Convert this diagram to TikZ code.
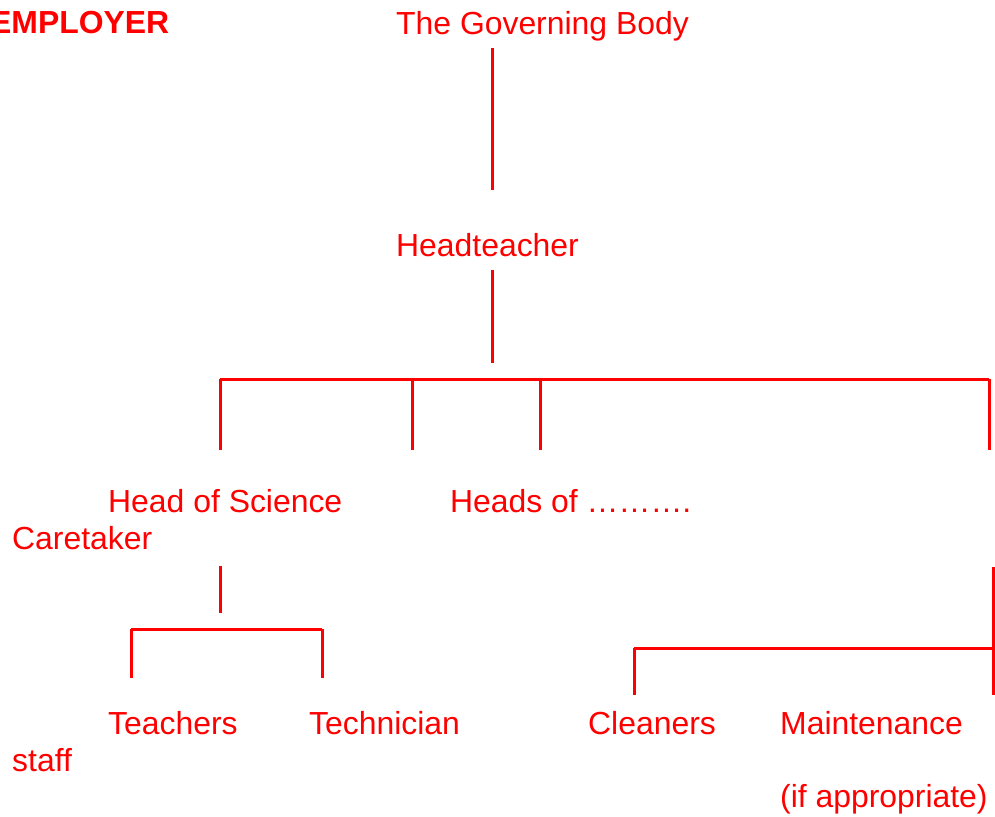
\documentclass[tikz,border=0pt]{standalone}
\usepackage{fontspec}
\setmainfont{Liberation Sans}
\usetikzlibrary{positioning}

\begin{document}
\begin{tikzpicture}[x=1pt, y=-1pt,
                    post/.style={text=red, anchor=base west, inner sep=0pt, font=\fontsize{31.9}{37}\selectfont},
                    boss/.style={post, font=\fontsize{31.9}{37}\selectfont\bfseries},
                    link/.style={draw=red, line width=3pt}]
    \useasboundingbox (0,0) rectangle (995,816);
    % nodes
    \node[boss]      (employer)   at (-10,34)     {EMPLOYER};
    \node[post]      (governors)  at (396,35)     {The Governing Body};
    \node[post]      (head)       at (396,256)    {Headteacher};
    \node[post]      (science)    at (108,512)    {Head of Science};
    \node[post]      (heads)      at (450,512)    {Heads of \dots\dots\dots.};
    \node[post]      (caretaker)  at (12,549)     {Caretaker};
    \node[post]      (teachers)   at (108,734)    {Teachers};
    \node[post]      (technician) at (309,734)    {Technician};
    \node[post]      (staff)      at (12,771)     {staff};
    \node[post]      (cleaners)   at (588,734)    {Cleaners};
    \node[post]      (maint)      at (780,734)    {Maintenance};
    \node[post]      (approp)     at (780,807)    {(if appropriate)};
    % joints
    \coordinate (g1) at (492,48);   \coordinate (g2) at (492,190);
    \coordinate (h1) at (492,270);  \coordinate (h2) at (492,379);
    \coordinate (b1) at (220,379);  \coordinate (b2) at (412,379);
    \coordinate (b3) at (540,379);  \coordinate (b4) at (989,379);
    \coordinate (s1) at (220,566);  \coordinate (s2) at (220,629);
    \coordinate (t1) at (131,629);  \coordinate (t2) at (322,629);
    \coordinate (c1) at (993,567);  \coordinate (c2) at (993,695);
    \coordinate (c3) at (634,648);
    % lines
    \draw[link] (g1) -- (g2);
    \draw[link] (h1) -- (h2 |- 0,363);
    \draw[link] (b1) -- (b4);
    \draw[link] (b1) -- ++(0,71);
    \draw[link] (b2) -- ++(0,71);
    \draw[link] (b3) -- ++(0,71);
    \draw[link] (b4) -- ++(0,71);
    \draw[link] (s1) -- (s2 |- 0,613);
    \draw[link] (t1) -- (t2);
    \draw[link] (t1) -- ++(0,49);
    \draw[link] (t2) -- ++(0,49);
    \draw[link] (c1) -- (c2);
    \draw[link] (c3) -- (c1 |- c3);
    \draw[link] (c3) -- ++(0,47);
\end{tikzpicture}
\end{document}
